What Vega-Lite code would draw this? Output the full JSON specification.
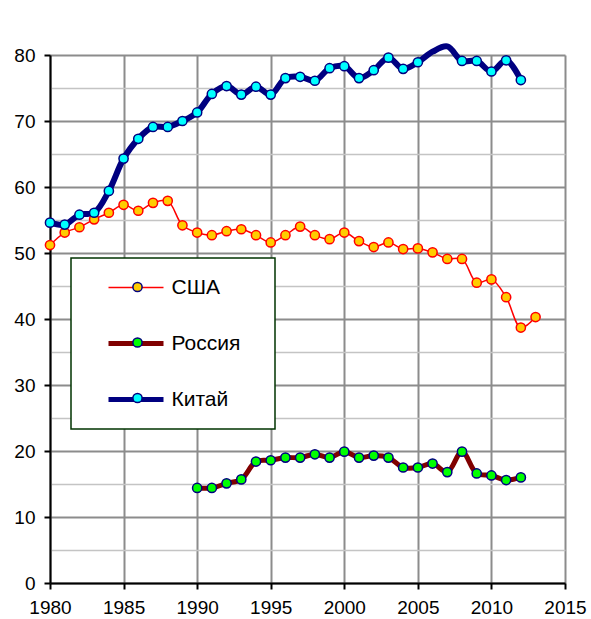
{
  "$schema": "https://vega.github.io/schema/vega-lite/v6.json",
  "width": 515,
  "height": 528,
  "autosize": "none",
  "padding": {"left": 50, "top": 55, "right": 26, "bottom": 36},
  "background": "white",
  "config": {
    "view": {"stroke": null},
    "font": "Liberation Sans",
    "axis": {
      "labelFont": "Liberation Sans",
      "labelFontSize": 19,
      "labelColor": "black",
      "domainColor": "black",
      "domainWidth": 2,
      "tickColor": "black",
      "tickWidth": 2,
      "tickSize": 6,
      "labelPadding": 9,
      "labelFlush": false,
      "labelOverlap": false,
      "title": null,
      "grid": true
    }
  },
  "data": {
    "values": [
      {"country": "США", "year": 1980, "value": 51.2},
      {"country": "США", "year": 1981, "value": 53.1},
      {"country": "США", "year": 1982, "value": 53.9},
      {"country": "США", "year": 1983, "value": 55.1},
      {"country": "США", "year": 1984, "value": 56.1},
      {"country": "США", "year": 1985, "value": 57.3},
      {"country": "США", "year": 1986, "value": 56.4},
      {"country": "США", "year": 1987, "value": 57.6},
      {"country": "США", "year": 1988, "value": 57.9},
      {"country": "США", "year": 1989, "value": 54.2},
      {"country": "США", "year": 1990, "value": 53.1},
      {"country": "США", "year": 1991, "value": 52.7},
      {"country": "США", "year": 1992, "value": 53.3},
      {"country": "США", "year": 1993, "value": 53.6},
      {"country": "США", "year": 1994, "value": 52.7},
      {"country": "США", "year": 1995, "value": 51.6},
      {"country": "США", "year": 1996, "value": 52.7},
      {"country": "США", "year": 1997, "value": 54.0},
      {"country": "США", "year": 1998, "value": 52.7},
      {"country": "США", "year": 1999, "value": 52.1},
      {"country": "США", "year": 2000, "value": 53.1},
      {"country": "США", "year": 2001, "value": 51.8},
      {"country": "США", "year": 2002, "value": 50.9},
      {"country": "США", "year": 2003, "value": 51.6},
      {"country": "США", "year": 2004, "value": 50.6},
      {"country": "США", "year": 2005, "value": 50.7},
      {"country": "США", "year": 2006, "value": 50.1},
      {"country": "США", "year": 2007, "value": 49.1},
      {"country": "США", "year": 2008, "value": 49.1},
      {"country": "США", "year": 2009, "value": 45.5},
      {"country": "США", "year": 2010, "value": 46.0},
      {"country": "США", "year": 2011, "value": 43.3},
      {"country": "США", "year": 2012, "value": 38.7},
      {"country": "США", "year": 2013, "value": 40.3},
      {"country": "Россия", "year": 1990, "value": 14.4},
      {"country": "Россия", "year": 1991, "value": 14.4},
      {"country": "Россия", "year": 1992, "value": 15.1},
      {"country": "Россия", "year": 1993, "value": 15.7},
      {"country": "Россия", "year": 1994, "value": 18.4},
      {"country": "Россия", "year": 1995, "value": 18.6},
      {"country": "Россия", "year": 1996, "value": 19.0},
      {"country": "Россия", "year": 1997, "value": 19.0},
      {"country": "Россия", "year": 1998, "value": 19.5},
      {"country": "Россия", "year": 1999, "value": 19.0},
      {"country": "Россия", "year": 2000, "value": 19.9},
      {"country": "Россия", "year": 2001, "value": 19.0},
      {"country": "Россия", "year": 2002, "value": 19.3},
      {"country": "Россия", "year": 2003, "value": 19.0},
      {"country": "Россия", "year": 2004, "value": 17.5},
      {"country": "Россия", "year": 2005, "value": 17.5},
      {"country": "Россия", "year": 2006, "value": 18.1},
      {"country": "Россия", "year": 2007, "value": 16.8},
      {"country": "Россия", "year": 2008, "value": 19.9},
      {"country": "Россия", "year": 2009, "value": 16.6},
      {"country": "Россия", "year": 2010, "value": 16.3},
      {"country": "Россия", "year": 2011, "value": 15.6},
      {"country": "Россия", "year": 2012, "value": 16.0},
      {"country": "Китай", "year": 1980, "value": 54.6},
      {"country": "Китай", "year": 1981, "value": 54.3},
      {"country": "Китай", "year": 1982, "value": 55.8},
      {"country": "Китай", "year": 1983, "value": 56.1},
      {"country": "Китай", "year": 1984, "value": 59.4},
      {"country": "Китай", "year": 1985, "value": 64.3},
      {"country": "Китай", "year": 1986, "value": 67.3},
      {"country": "Китай", "year": 1987, "value": 69.1},
      {"country": "Китай", "year": 1988, "value": 69.1},
      {"country": "Китай", "year": 1989, "value": 70.0},
      {"country": "Китай", "year": 1990, "value": 71.3},
      {"country": "Китай", "year": 1991, "value": 74.1},
      {"country": "Китай", "year": 1992, "value": 75.3},
      {"country": "Китай", "year": 1993, "value": 74.0},
      {"country": "Китай", "year": 1994, "value": 75.2},
      {"country": "Китай", "year": 1995, "value": 74.0},
      {"country": "Китай", "year": 1996, "value": 76.5},
      {"country": "Китай", "year": 1997, "value": 76.7},
      {"country": "Китай", "year": 1998, "value": 76.1},
      {"country": "Китай", "year": 1999, "value": 78.0},
      {"country": "Китай", "year": 2000, "value": 78.3},
      {"country": "Китай", "year": 2001, "value": 76.5},
      {"country": "Китай", "year": 2002, "value": 77.7},
      {"country": "Китай", "year": 2003, "value": 79.6},
      {"country": "Китай", "year": 2004, "value": 77.9},
      {"country": "Китай", "year": 2005, "value": 78.9},
      {"country": "Китай", "year": 2006, "value": 80.5},
      {"country": "Китай", "year": 2007, "value": 81.3},
      {"country": "Китай", "year": 2008, "value": 79.1},
      {"country": "Китай", "year": 2009, "value": 79.1},
      {"country": "Китай", "year": 2010, "value": 77.5},
      {"country": "Китай", "year": 2011, "value": 79.2},
      {"country": "Китай", "year": 2012, "value": 76.2}
    ]
  },
  "encoding": {
    "x": {
      "field": "year",
      "type": "quantitative",
      "scale": {"domain": [1980, 2015], "nice": false, "zero": false},
      "axis": {
        "values": [1980, 1985, 1990, 1995, 2000, 2005, 2010, 2015],
        "format": "d",
        "gridColor": "#8c8c8c",
        "gridWidth": 2
      }
    },
    "y": {
      "field": "value",
      "type": "quantitative",
      "scale": {"domain": [0, 80], "nice": false},
      "axis": {
        "values": [0, 5, 10, 15, 20, 25, 30, 35, 40, 45, 50, 55, 60, 65, 70, 75, 80],
        "labelExpr": "datum.value % 10 === 0 ? datum.label : ''",
        "gridColor": {"condition": {"test": "datum.value % 10 === 0", "value": "#8c8c8c"}, "value": "#c4c4c4"},
        "gridWidth": {"condition": {"test": "datum.value % 10 === 0", "value": 2}, "value": 1.5},
        "tickOpacity": {"condition": {"test": "datum.value % 10 === 0", "value": 1}, "value": 0}
      }
    }
  },
  "layer": [
    {
      "mark": {"type": "line", "interpolate": "catmull-rom"},
      "encoding": {
        "color": {
          "field": "country",
          "type": "nominal",
          "scale": {"domain": ["США", "Россия", "Китай"], "range": ["#ff0000", "#800000", "#000080"]},
          "legend": {
            "orient": "none",
            "legendX": 21,
            "legendY": 203,
            "title": ".",
            "titleOrient": "left",
            "titleFontSize": 10,
            "titlePadding": 32.5,
            "titleOpacity": 0,
            "symbolType": "stroke",
            "symbolSize": 3025,
            "labelOffset": 25,
            "padding": 19,
            "rowPadding": 34,
            "labelFont": "Liberation Sans",
            "labelFontSize": 21,
            "labelColor": "black",
            "labelExpr": "datum.label + '\u2800'",
            "fillColor": "white",
            "strokeColor": "#003300",
            "encode": {
              "legend": {"update": {"strokeWidth": {"value": 1.5}}},
              "symbols": {"update": {"strokeWidth": {"signal": "datum.value === 'США' ? 1.5 : 5"}, "opacity": {"value": 1}}}
            }
          }
        },
        "strokeWidth": {
          "condition": [
            {"test": "datum.country === 'США'", "value": 1.5},
            {"test": "datum.country === 'Россия'", "value": 5}
          ],
          "value": 6
        }
      }
    },
    {
      "transform": [{"filter": "datum.value <= 80"}],
      "mark": {"type": "point", "filled": true, "size": 85, "opacity": 1, "strokeWidth": 1.5},
      "encoding": {
        "fill": {
          "field": "country",
          "type": "nominal",
          "sort": ["США", "Россия", "Китай"],
          "scale": {"range": ["#ffcc00", "#00ff00", "#00ffff"]},
          "legend": {
            "orient": "none",
            "legendX": 77.5,
            "legendY": 222,
            "title": null,
            "symbolType": "circle",
            "symbolSize": 85,
            "padding": 0,
            "rowPadding": 35.5,
            "labelFontSize": 20,
            "labelOffset": 4,
            "labelExpr": "'.'",
            "labelOpacity": 0,
            "fillColor": null,
            "strokeColor": null,
            "encode": {
              "symbols": {"update": {"stroke": {"signal": "datum.value === 'США' ? '#ff0000' : '#000080'"}, "strokeWidth": {"value": 1.5}, "opacity": {"value": 1}}}
            }
          }
        },
        "stroke": {"condition": {"test": "datum.country === 'США'", "value": "#ff0000"}, "value": "#000080"}
      }
    }
  ]
}
